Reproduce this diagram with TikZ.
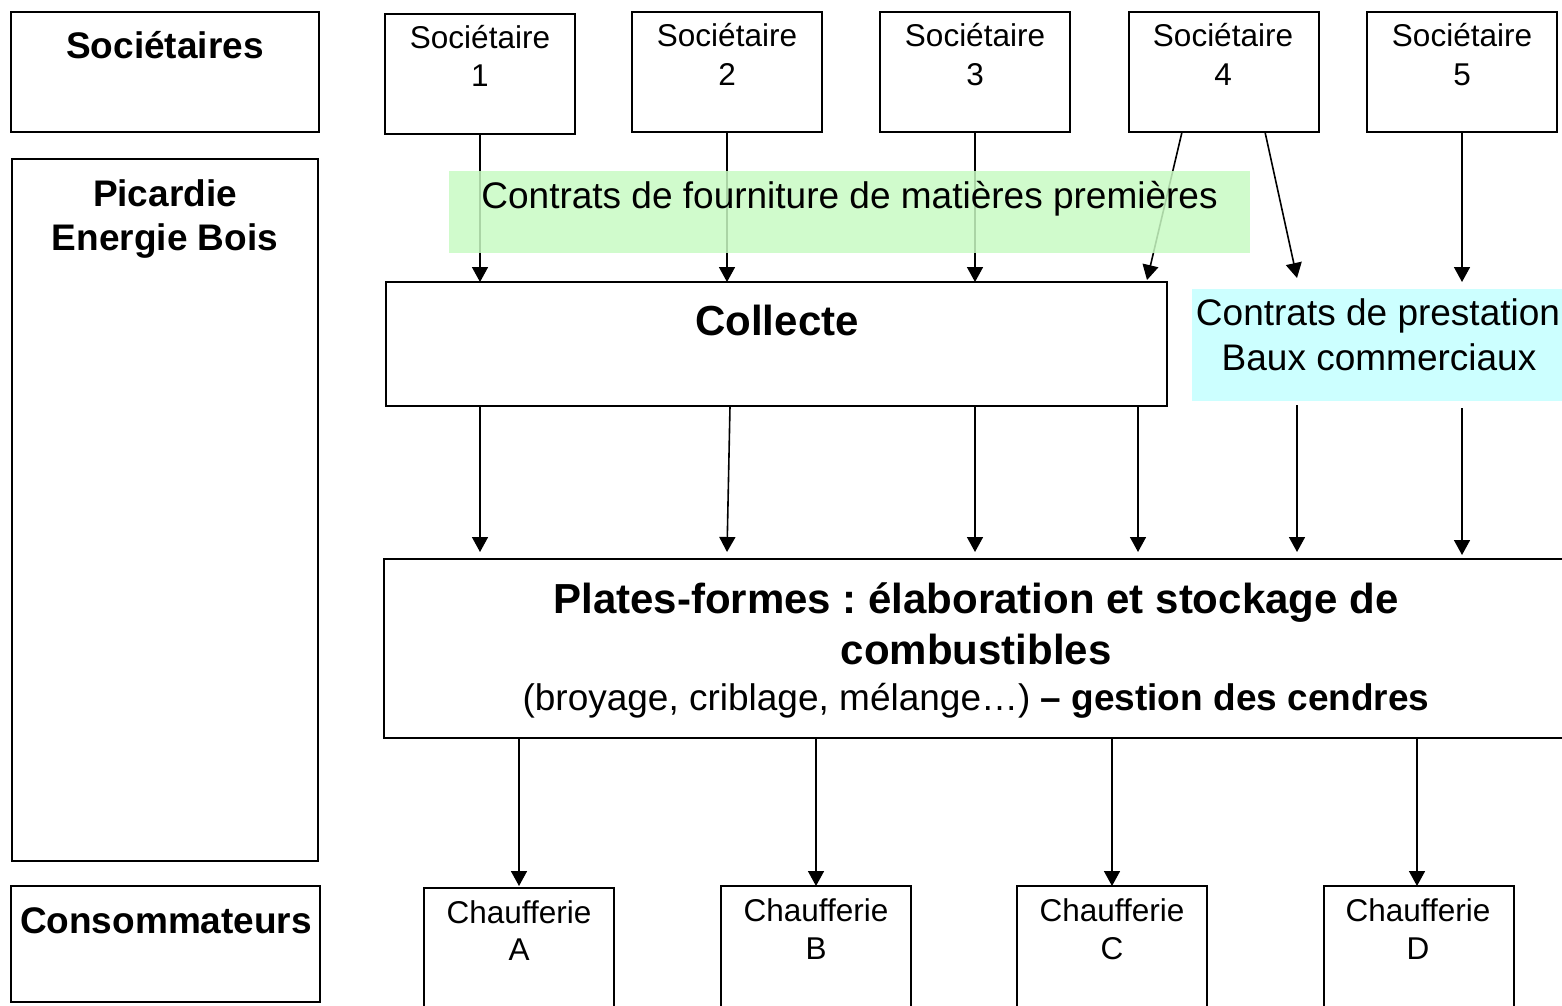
\documentclass[tikz,border=0pt]{standalone}
\usepackage{fontspec}
\setmainfont{Liberation Sans}
\usetikzlibrary{arrows.meta}
\definecolor{vert}{RGB}{200,250,195}
\definecolor{cyanclair}{RGB}{204,255,255}
\frenchspacing
\begin{document}
\begin{tikzpicture}[x=1pt,y=-1pt,
  box/.style={draw, line width=1.8pt, rectangle, inner sep=0pt, outer sep=0pt},
  zone/.style={rectangle, draw=none, inner sep=0pt, outer sep=0pt},
  small/.style={font=\fontsize{31.5}{38}\selectfont, anchor=base, inner sep=0pt},
  mid/.style={font=\fontsize{37}{44}\selectfont, anchor=base, inner sep=0pt},
  midb/.style={font=\fontsize{37}{44}\selectfont\bfseries, anchor=base, inner sep=0pt},
  big/.style={font=\fontsize{42}{50}\selectfont\bfseries, anchor=base, inner sep=0pt},
  arr/.style={-{Triangle[length=15pt,width=16pt]}, line width=1.6pt}]
\useasboundingbox (0,0) rectangle (1562,1005);

% left column
\node[box, minimum width=308pt, minimum height=120pt] (soc) at (165,72) {};
\node[box, minimum width=306pt, minimum height=702pt] (pic) at (165,510) {};
\node[box, minimum width=309pt, minimum height=116pt] (cons) at (165.5,944) {};
\node[midb] (tsoc) at (165,58) {Sociétaires};
\node[midb] (tpic1) at (165,206) {Picardie};
\node[midb] (tpic2) at (165,250) {Energie Bois};
\node[midb] (tcons) at (166,933) {Consommateurs};

% sociétaires
\node[box, minimum width=190pt, minimum height=120pt] (s1) at (480,74) {};
\node[box, minimum width=190pt, minimum height=120pt] (s2) at (727,72) {};
\node[box, minimum width=190pt, minimum height=120pt] (s3) at (975,72) {};
\node[box, minimum width=190pt, minimum height=120pt] (s4) at (1224,72) {};
\node[box, minimum width=190pt, minimum height=120pt] (s5) at (1462,72) {};
\node[small] (ts1a) at (480,48) {Sociétaire}; \node[small] (ts1b) at (480,86) {1};
\node[small] (ts2a) at (727,46) {Sociétaire}; \node[small] (ts2b) at (727,85) {2};
\node[small] (ts3a) at (975,46) {Sociétaire}; \node[small] (ts3b) at (975,85) {3};
\node[small] (ts4a) at (1223,46) {Sociétaire}; \node[small] (ts4b) at (1223,85) {4};
\node[small] (ts5a) at (1462,46) {Sociétaire}; \node[small] (ts5b) at (1462,85) {5};

% collecte, cyan, plates-formes
\node[box, minimum width=781pt, minimum height=124pt] (col) at (776.5,344) {};
\node[big] (tcol) at (777,335) {Collecte};
\node[zone, fill=cyanclair, minimum width=376pt, minimum height=112pt] (cy) at (1380,345) {};
\node[mid] (tcy1) at (1378,325) {Contrats de prestation};
\node[mid] (tcy2) at (1379,370) {Baux commerciaux};
\node[box, minimum width=1186pt, minimum height=179pt] (pf) at (977,648.5) {};
\node[big] (tpf1) at (976,613) {Plates-formes : élaboration et stockage de};
\node[big] (tpf2) at (976,664) {combustibles};
\node[mid] (tpf3) at (976,710) {(broyage, criblage, mélange…) \textbf{– gestion des cendres}};

% chaufferies
\node[box, minimum width=190pt, minimum height=124pt] (ca) at (519,950) {};
\node[box, minimum width=190pt, minimum height=126pt] (cb) at (816,949) {};
\node[box, minimum width=190pt, minimum height=126pt] (cc) at (1112,949) {};
\node[box, minimum width=190pt, minimum height=126pt] (cd) at (1419,949) {};
\node[small] (tca1) at (519,923) {Chaufferie}; \node[small] (tca2) at (519,960) {A};
\node[small] (tcb1) at (816,921) {Chaufferie}; \node[small] (tcb2) at (816,959) {B};
\node[small] (tcc1) at (1112,921) {Chaufferie}; \node[small] (tcc2) at (1112,959) {C};
\node[small] (tcd1) at (1418,921) {Chaufferie}; \node[small] (tcd2) at (1418,959) {D};

% arrows sociétaires -> collecte / prestation
\draw[arr] (s1.south) -- (s1.south |- col.north);
\draw[arr] (s2.south) -- (s2.south |- col.north);
\draw[arr] (s3.south) -- (s3.south |- col.north);
\draw[arr] ([xshift=-42pt]s4.south) -- ([xshift=-20pt,yshift=2pt]col.north east);
\draw[arr] ([xshift=41pt]s4.south) -- ([xshift=-83pt,yshift=11pt]cy.north);
\draw[arr] (s5.south) -- ++(0,150);

% green band over the arrows
\node[zone, fill=vert, fill opacity=0.85, minimum width=801pt, minimum height=82pt] (gr) at (849.5,212) {};
\node[mid] (tgr) at (849.5,208) {Contrats de fourniture de matières premières};

% collecte -> plates-formes
\draw[arr] (col.south -| s1) -- ([yshift=7pt]pf.north -| s1);
\draw[arr] ([xshift=3pt]col.south -| s2) -- ([yshift=7pt]pf.north -| s2);
\draw[arr] (col.south -| s3) -- ([yshift=7pt]pf.north -| s3);
\draw[arr] ([xshift=-29pt]col.south east) -- ([xshift=-29pt,yshift=7pt]col.south east |- pf.north);
\draw[arr] ([xshift=-83pt,yshift=-4pt]cy.south) -- ([xshift=-83pt,yshift=7pt]cy.south |- pf.north);
\draw[arr] ([yshift=-7pt]cy.south -| s5) -- ([yshift=4pt]pf.north -| s5);

% plates-formes -> chaufferies
\draw[arr] (pf.south -| ca) -- ([yshift=2pt]ca.north);
\draw[arr] (pf.south -| cb) -- (cb.north);
\draw[arr] (pf.south -| cc) -- (cc.north);
\draw[arr] ([xshift=-2pt]pf.south -| cd) -- ([xshift=-2pt]cd.north);
\end{tikzpicture}
\end{document}
